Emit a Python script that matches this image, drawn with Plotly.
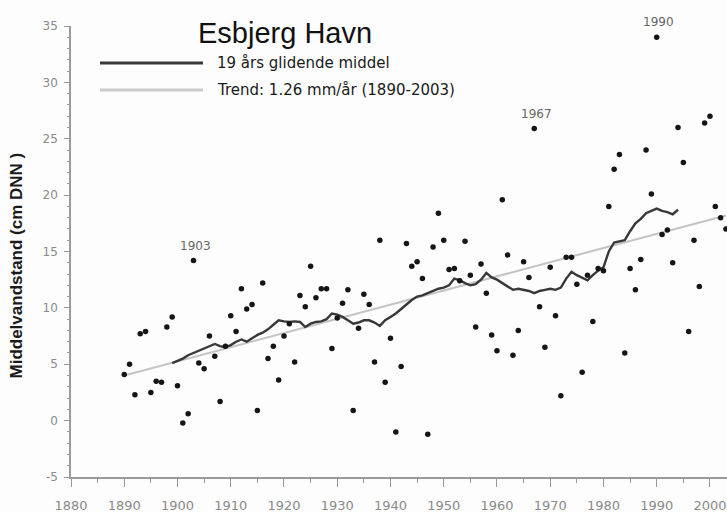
import plotly.graph_objects as go

# ---- data ----
years = list(range(1890, 2004))
sea_level = [
    4.1, 5.0, 2.3, 7.7, 7.9, 2.5, 3.5, 3.4, 8.3, 9.2,          # 1890-1899
    3.1, -0.2, 0.6, 14.2, 5.1, 4.6, 7.5, 5.7, 1.7, 6.6,        # 1900-1909
    9.3, 7.9, 11.7, 9.9, 10.3, 0.9, 12.2, 5.5, 6.6, 3.6,       # 1910-1919
    7.5, 8.6, 5.2, 11.1, 10.1, 13.7, 10.9, 11.7, 11.7, 6.4,    # 1920-1929
    9.1, 10.4, 11.6, 0.9, 8.2, 11.2, 10.3, 5.2, 16.0, 3.4,     # 1930-1939
    7.3, -1.0, 4.8, 15.7, 13.7, 14.1, 12.6, -1.2, 15.4, 18.4,  # 1940-1949
    16.0, 13.4, 13.5, 12.4, 15.9, 12.9, 8.3, 13.9, 11.3, 7.6,  # 1950-1959
    6.2, 19.6, 14.7, 5.8, 8.0, 14.1, 12.7, 25.9, 10.1, 6.5,    # 1960-1969
    13.6, 9.3, 2.2, 14.5, 14.5, 12.1, 4.3, 12.9, 8.8, 13.5,    # 1970-1979
    13.3, 19.0, 22.3, 23.6, 6.0, 13.5, 11.6, 14.3, 24.0, 20.1, # 1980-1989
    34.0, 16.5, 16.9, 14.0, 26.0, 22.9, 7.9, 16.0, 11.9, 26.4, # 1990-1999
    27.0, 19.0, 18.0, 17.0,                                    # 2000-2003
]

ma_years = list(range(1899, 1995))
moving_mean = [
    5.1,                                                      # 1899
    5.3, 5.5, 5.8, 6.0, 6.2, 6.4, 6.6, 6.8, 6.6, 6.5,         # 1900-1909
    6.7, 7.0, 7.2, 7.0, 7.3, 7.6, 7.8, 8.1, 8.5, 8.9,         # 1910-1919
    8.8, 8.75, 8.8, 8.75, 8.3, 8.6, 8.75, 8.8, 9.0, 9.5,      # 1920-1929
    9.4, 9.2, 8.9, 8.6, 8.7, 8.9, 8.9, 8.7, 8.4, 8.9,         # 1930-1939
    9.2, 9.5, 9.9, 10.3, 10.7, 11.0, 11.1, 11.3, 11.5, 11.7,  # 1940-1949
    11.8, 12.0, 12.6, 12.45, 12.2, 12.0, 12.1, 12.5, 13.1, 12.7,  # 1950-1959
    12.5, 12.2, 11.9, 11.6, 11.7, 11.6, 11.5, 11.3, 11.5, 11.6,   # 1960-1969
    11.7, 11.6, 11.8, 12.6, 13.2, 12.9, 12.7, 12.45, 12.9, 13.3,  # 1970-1979
    13.6, 15.0, 15.8, 15.9, 16.0, 16.8, 17.5, 17.9, 18.4, 18.6,   # 1980-1989
    18.8, 18.6, 18.5, 18.3, 18.7,                                 # 1990-1994
]

trend_years = [1890, 2003]
trend_values = [4.0, 18.2]

labelled_years = [1903, 1967, 1990]

title_text = "Esbjerg Havn"
legend_ma = "19 års glidende middel"
legend_trend = "Trend: 1.26 mm/år (1890-2003)"
y_title = "Middelvandstand (cm DNN )"

x_ticks = list(range(1880, 2010, 10))
y_ticks = list(range(-5, 40, 5))

# ---- figure ----
fig = go.Figure()

fig.add_trace(go.Scatter(
    x=trend_years, y=trend_values, mode="lines",
    line=dict(color="#c4c4c4", width=2), hoverinfo="skip", showlegend=False))

fig.add_trace(go.Scatter(
    x=ma_years, y=moving_mean, mode="lines",
    line=dict(color="#383838", width=2.4), showlegend=False))

fig.add_trace(go.Scatter(
    x=years, y=sea_level, mode="markers",
    marker=dict(color="#151515", size=5.5, symbol="circle"),
    showlegend=False))

axis_grey = "#9a9a9a"
fig.update_layout(
    width=727, height=512,
    margin=dict(l=71, r=0, t=26, b=35),
    paper_bgcolor="#fdfdfd", plot_bgcolor="#fdfdfd",
    font=dict(family="DejaVu Sans", color="#888888"),
    xaxis=dict(
        range=[1880, 2003.2], tickmode="array", tickvals=x_ticks,
        ticktext=[str(v) for v in x_ticks],
        showgrid=False, zeroline=False, showline=True,
        linecolor=axis_grey, linewidth=1.5,
        ticks="outside", ticklen=8, tickwidth=1.3, tickcolor=axis_grey,
        minor=dict(dtick=5, tick0=1880, ticks="outside", ticklen=4,
                   tickcolor=axis_grey, tickwidth=1.2),
        tickfont=dict(family="DejaVu Sans", size=13, color="#8a8a8a"),
        ticklabelstandoff=8,
    ),
    yaxis=dict(
        range=[-5, 35], tickmode="array", tickvals=y_ticks,
        ticktext=[str(v) for v in y_ticks],
        showgrid=False, zeroline=False, showline=True,
        linecolor=axis_grey, linewidth=1.5,
        ticks="outside", ticklen=5, tickwidth=1.3, tickcolor=axis_grey,
        minor=dict(dtick=1, tick0=-5, ticks="outside", ticklen=2,
                   tickcolor=axis_grey, tickwidth=1.2),
        tickfont=dict(family="DejaVu Sans", size=12, color="#8a8a8a"),
        ticklabelstandoff=4,
    ),
)

# labels for notable years
for yr in labelled_years:
    fig.add_annotation(
        x=yr, y=sea_level[years.index(yr)], text=str(yr), showarrow=False,
        xshift=2, yshift=15, xanchor="center", yanchor="middle",
        font=dict(family="DejaVu Sans", size=12, color="#666666"))

# title
fig.add_annotation(
    xref="paper", yref="paper", x=0.326, y=0.985, text=title_text,
    showarrow=False, xanchor="center", yanchor="middle",
    font=dict(family="Liberation Sans", size=29, color="#111111"))

# legend (drawn manually)
fig.add_shape(type="line", xref="paper", yref="paper",
              x0=0.0442, x1=0.2012, y0=0.918, y1=0.918,
              line=dict(color="#383838", width=3))
fig.add_shape(type="line", xref="paper", yref="paper",
              x0=0.0442, x1=0.2012, y0=0.858, y1=0.858,
              line=dict(color="#cccccc", width=3))
fig.add_annotation(
    xref="paper", yref="paper", x=0.2195, y=0.918, text=legend_ma,
    showarrow=False, xanchor="left", yanchor="middle",
    font=dict(family="DejaVu Sans", size=15, color="#1a1a1a"))
fig.add_annotation(
    xref="paper", yref="paper", x=0.2195, y=0.858, text=legend_trend,
    showarrow=False, xanchor="left", yanchor="middle",
    font=dict(family="DejaVu Sans", size=15, color="#1a1a1a"))

# y-axis title
fig.add_annotation(
    xref="paper", yref="paper", x=-0.083, y=0.468,
    text="<b>" + y_title + "</b>",
    textangle=-90, showarrow=False, xanchor="center", yanchor="middle",
    font=dict(family="Liberation Sans", size=17, color="#1a1a1a"))

fig.write_html(
    "out.html",
    config={"displayModeBar": False},
    post_script="document.documentElement.style.margin='0';"
                "document.body.style.margin='0';"
                "document.body.style.overflow='hidden';")
